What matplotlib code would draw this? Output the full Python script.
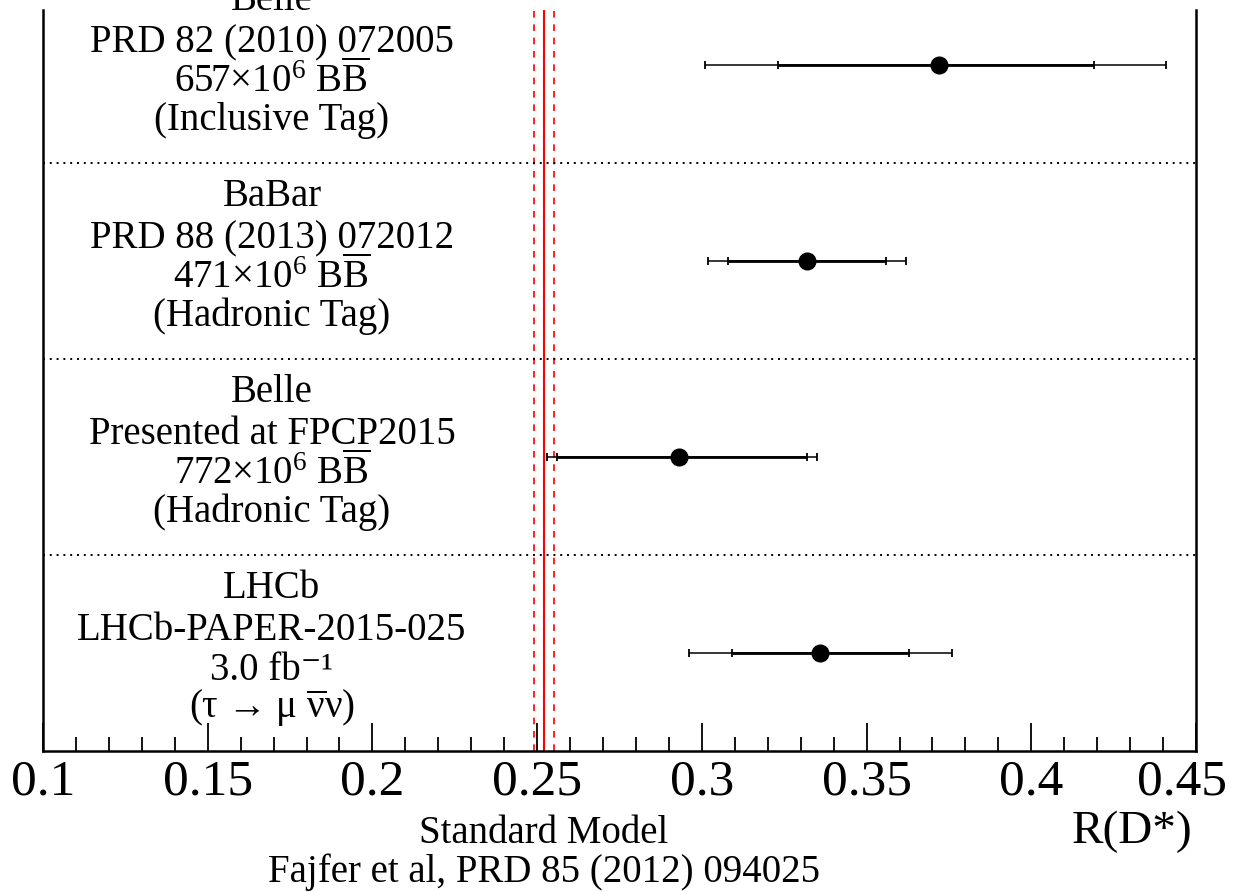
import numpy as np
import matplotlib
matplotlib.use("Agg")
import matplotlib.pyplot as plt
import matplotlib.transforms as mtransforms
from matplotlib.ticker import MultipleLocator

plt.rcParams['font.family'] = ['Liberation Serif', 'DejaVu Serif']
plt.rcParams['mathtext.fontset'] = 'custom'
plt.rcParams['mathtext.rm'] = 'Liberation Serif'
plt.rcParams['mathtext.it'] = 'Liberation Serif'
plt.rcParams['mathtext.bf'] = 'Liberation Serif:bold'

# measurements, top to bottom
experiments = ['Belle', 'BaBar', 'Belle', 'LHCb']
references = ['PRD 82 (2010) 072005', 'PRD 88 (2013) 072012',
              'Presented at FPCP2015', 'LHCb-PAPER-2015-025']
samples = [r'657$\times$10$^{6}$ B$\overline{\rm B}$',
           r'471$\times$10$^{6}$ B$\overline{\rm B}$',
           r'772$\times$10$^{6}$ B$\overline{\rm B}$',
           '3.0 fb\u207b\u00b9']
tags = ['(Inclusive Tag)', '(Hadronic Tag)', '(Hadronic Tag)',
        '(\u03c4 \u2192 \u03bc $\\overline{\\nu}$\u03bd)']
values = [0.372, 0.332, 0.293, 0.336]
stat_lo = [0.049, 0.024, 0.037, 0.027]
stat_hi = [0.047, 0.024, 0.039, 0.027]
tot_lo = [0.071, 0.030, 0.040, 0.040]
tot_hi = [0.069, 0.030, 0.042, 0.040]

sm_value = 0.252
sm_error = 0.003

tick_values = [0.1, 0.15, 0.2, 0.25, 0.3, 0.35, 0.4, 0.45]
tick_labels = ['0.1', '0.15', '0.2', '0.25', '0.3', '0.35', '0.4', '0.45']

n = len(values)
rows = np.arange(n)[::-1] + 0.5

fig = plt.figure(figsize=(12.37, 8.92), dpi=100)
ax = fig.add_axes([43 / 1237, 141 / 892, 1153 / 1237, 741 / 892])
ax.set_xlim(0.1, 0.45)
ax.set_ylim(0, 741 / 196)

ax.axvline(sm_value, color='red', lw=1.5, zorder=1)
ax.axvline(sm_value - sm_error, color='red', lw=1.2, ls=(0, (4, 4)), zorder=1)
ax.axvline(sm_value + sm_error, color='red', lw=1.2, ls=(0, (4, 4)), zorder=1)

for k in range(1, n):
    ax.axhline(k, color='black', lw=1.4, ls=(0, (1, 2.5)), zorder=1)

ax.errorbar(values, rows, xerr=[tot_lo, tot_hi], fmt='none', ecolor='black',
            elinewidth=1.1, capsize=3, capthick=1.3, zorder=2)
ax.errorbar(values, rows, xerr=[stat_lo, stat_hi], fmt='o', color='black',
            ms=12, elinewidth=2, capsize=3, capthick=1.3, zorder=3)

# labels to the left of each row
label_x = 0.1695
offsets = [0.281, 0.066, -0.138, -0.332]
for i in range(n):
    for line, off in zip([experiments[i], references[i], samples[i], tags[i]], offsets):
        ax.text(label_x, rows[i] + off, line, ha='center', va='baseline',
                fontsize=28, clip_on=False)

ax.set_xticks(tick_values)
ax.set_xticklabels(tick_labels)
ax.xaxis.set_minor_locator(MultipleLocator(0.01))
ax.tick_params(axis='x', which='major', direction='in', length=20, width=1.3,
               labelsize=37, pad=6, top=False)
ax.tick_params(axis='x', which='minor', direction='in', length=10, width=1.3, top=False)
ax.set_yticks([])

# keep the last tick label inside the figure
last = ax.get_xticklabels()[-1]
last.set_transform(last.get_transform() +
                   mtransforms.ScaledTranslation(-14 / 100, 0, fig.dpi_scale_trans))

ax.spines['top'].set_visible(False)
for side in ['left', 'right', 'bottom']:
    ax.spines[side].set_linewidth(1.8)

ax.text(sm_value, -0.469, 'Standard Model', ha='center', va='baseline', fontsize=28)
ax.text(sm_value, -0.668, 'Fajfer et al, PRD 85 (2012) 094025', ha='center',
        va='baseline', fontsize=28)
ax.text(0.449, -0.469, 'R(D*)', ha='right', va='baseline', fontsize=34)

fig.savefig('out.png', dpi=100)
